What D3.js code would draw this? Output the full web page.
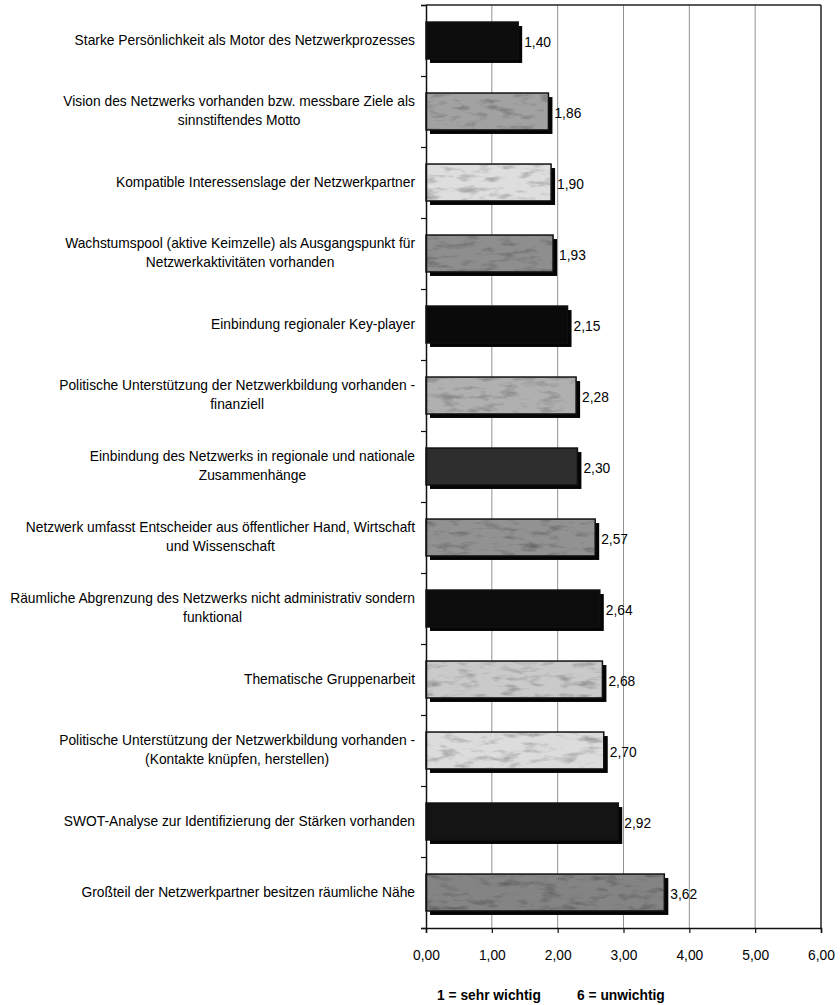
<!DOCTYPE html>
<html>
<head>
<meta charset="utf-8">
<script src="https://cdn.jsdelivr.net/npm/d3@7"></script>
<style>
  html, body { margin: 0; padding: 0; background: #fff; }
  svg { display: block; font-family: "Liberation Sans", Arial, sans-serif; }
</style>
</head>
<body>
<svg id="chart" width="840" height="1005"></svg>
<script>
// Bewertung der Erfolgsfaktoren (1 = sehr wichtig, 6 = unwichtig)
const categories = [
  ["Starke Persönlichkeit als Motor des Netzwerkprozesses"],
  ["Vision des Netzwerks vorhanden bzw. messbare Ziele als", "sinnstiftendes Motto"],
  ["Kompatible Interessenslage der Netzwerkpartner"],
  ["Wachstumspool (aktive Keimzelle) als Ausgangspunkt für", "Netzwerkaktivitäten vorhanden"],
  ["Einbindung regionaler Key-player"],
  ["Politische Unterstützung der Netzwerkbildung vorhanden -", "finanziell"],
  ["Einbindung des Netzwerks in regionale und nationale", "Zusammenhänge"],
  ["Netzwerk umfasst Entscheider aus öffentlicher Hand, Wirtschaft", "und Wissenschaft"],
  ["Räumliche Abgrenzung des Netzwerks nicht administrativ sondern", "funktional"],
  ["Thematische Gruppenarbeit"],
  ["Politische Unterstützung der Netzwerkbildung vorhanden -", "(Kontakte knüpfen, herstellen)"],
  ["SWOT-Analyse zur Identifizierung der Stärken vorhanden"],
  ["Großteil der Netzwerkpartner besitzen räumliche Nähe"]
];
const values = [1.40, 1.86, 1.90, 1.93, 2.15, 2.28, 2.30, 2.57, 2.64, 2.68, 2.70, 2.92, 3.62];
const barFills = ["#0c0c0c", "#a2a2a2", "#dedede", "#8e8e8e", "#0a0a0a", "#b0b0b0", "#2e2e2e",
                  "#929292", "#0c0c0c", "#cacaca", "#dcdcdc", "#141414", "#848484"];
const xTicks = [0, 1, 2, 3, 4, 5, 6];
const footnotes = ["1 = sehr wichtig", "6 = unwichtig"];

const svg = d3.select("#chart");
const plotLeft = 426, plotRight = 821, plotTop = 5, plotBottom = 928;
const squeeze = 0.92;          // horizontal compression of all lettering
const fontSize = 15;

const x = d3.scaleLinear().domain([0, 6]).range([plotLeft, plotRight]);
const y = d3.scaleBand().domain(d3.range(categories.length)).range([plotTop, plotBottom])
  .paddingInner(0.48).paddingOuter(0.24);
const fmt = v => d3.format(".2f")(v).replace(".", ",");
const rows = values.map((v, i) => ({ v, i, fill: barFills[i] }));

// mottled texture for the shaded bars
const defs = svg.append("defs");
const grain = defs.append("filter").attr("id", "grain")
  .attr("x", 0).attr("y", 0).attr("width", 1).attr("height", 1);
grain.append("feTurbulence").attr("type", "fractalNoise").attr("baseFrequency", "0.05 0.16")
  .attr("numOctaves", 4).attr("seed", 11).attr("result", "n");
grain.append("feColorMatrix").attr("in", "n").attr("type", "matrix")
  .attr("values", "0 0 0 0 0  0 0 0 0 0  0 0 0 0 0  0 0 0 -2.4 1.2").attr("result", "a");
grain.append("feComposite").attr("in", "a").attr("in2", "SourceGraphic").attr("operator", "in");

// vertical gridlines
svg.append("g").selectAll("line").data(xTicks.slice(1, -1)).join("line")
  .attr("x1", d => x(d)).attr("x2", d => x(d))
  .attr("y1", plotTop).attr("y2", plotBottom)
  .attr("stroke", "#929292").attr("stroke-width", 1);

// frame: top and right edges
svg.append("line").attr("x1", plotLeft).attr("x2", x(6)).attr("y1", plotTop).attr("y2", plotTop)
  .attr("stroke", "#222").attr("stroke-width", 1.5);
svg.append("line").attr("x1", x(6)).attr("x2", x(6)).attr("y1", plotTop).attr("y2", plotBottom)
  .attr("stroke", "#222").attr("stroke-width", 1.5);

// bars with drop shadow
const bars = svg.append("g").selectAll("g").data(rows).join("g");
bars.append("rect")
  .attr("x", x(0) + 4).attr("y", d => y(d.i) + 4)
  .attr("width", d => x(d.v) - x(0)).attr("height", y.bandwidth())
  .attr("fill", "#050505");
bars.append("rect")
  .attr("x", x(0)).attr("y", d => y(d.i))
  .attr("width", d => x(d.v) - x(0)).attr("height", y.bandwidth())
  .attr("fill", d => d.fill)
  .attr("stroke", "#111").attr("stroke-width", 1.5);
bars.filter(d => d3.hsl(d.fill).l > 0.3).append("rect")
  .attr("x", x(0) + 1).attr("y", d => y(d.i) + 1)
  .attr("width", d => x(d.v) - x(0) - 2).attr("height", y.bandwidth() - 2)
  .attr("fill", "#3a3a3a").attr("opacity", 0.28).attr("filter", "url(#grain)");

// value labels
bars.append("g")
  .attr("transform", d => `translate(${x(d.v) + 6},${y(d.i) + y.bandwidth() / 2 + 1}) scale(${squeeze},1)`)
  .append("text")
  .attr("dy", "0.35em")
  .attr("font-size", fontSize).attr("fill", "#000")
  .text(d => fmt(d.v));

// x axis
const xAxis = svg.append("g").attr("transform", `translate(0,${plotBottom})`)
  .call(d3.axisBottom(x).tickValues(xTicks).tickFormat(fmt).tickSize(5).tickPadding(16));
xAxis.select(".domain").attr("stroke", "#111").attr("stroke-width", 1.5);
xAxis.selectAll(".tick line").attr("stroke", "#111").attr("stroke-width", 1.2);
xAxis.selectAll(".tick text")
  .attr("font-size", fontSize).attr("fill", "#000")
  .attr("font-family", "Liberation Sans, Arial, sans-serif")
  .attr("transform", `scale(${squeeze},1)`);

// y axis with ticks between categories
const yIdx = d3.scaleLinear().domain([0, categories.length]).range([plotTop, plotBottom]);
const yAxis = svg.append("g").attr("transform", `translate(${plotLeft},0)`)
  .call(d3.axisLeft(yIdx).tickValues(d3.range(categories.length + 1)).tickFormat("").tickSize(5));
yAxis.select(".domain").attr("stroke", "#111").attr("stroke-width", 1.5);
yAxis.selectAll(".tick line").attr("stroke", "#111").attr("stroke-width", 1.2);

// category labels: lines centred on each other, block right-aligned next to the axis
const labelRight = 415, lineGap = 18.5;
const labels = svg.append("g")
  .attr("transform", `translate(${labelRight},0) scale(${squeeze},1)`)
  .attr("font-size", fontSize).attr("fill", "#000");
categories.forEach((lines, i) => {
  const g = labels.append("g");
  const cy = y(i) + y.bandwidth() / 2 - 1;
  const ts = lines.map((ln, j) => g.append("text")
    .attr("y", cy + (j - (lines.length - 1) / 2) * lineGap)
    .attr("dy", "0.35em").attr("text-anchor", "middle").text(ln));
  const w = d3.max(ts, t => t.node().getComputedTextLength());
  ts.forEach(t => t.attr("x", -w / 2));
});

// scale explanation below the axis
svg.append("g").attr("font-size", fontSize).attr("font-weight", "bold").attr("fill", "#000")
  .selectAll("g").data(footnotes).join("g")
  .attr("transform", (d, i) => `translate(${[437, 577][i]},1000) scale(${squeeze},1)`)
  .append("text").text(d => d);
</script>
</body>
</html>
